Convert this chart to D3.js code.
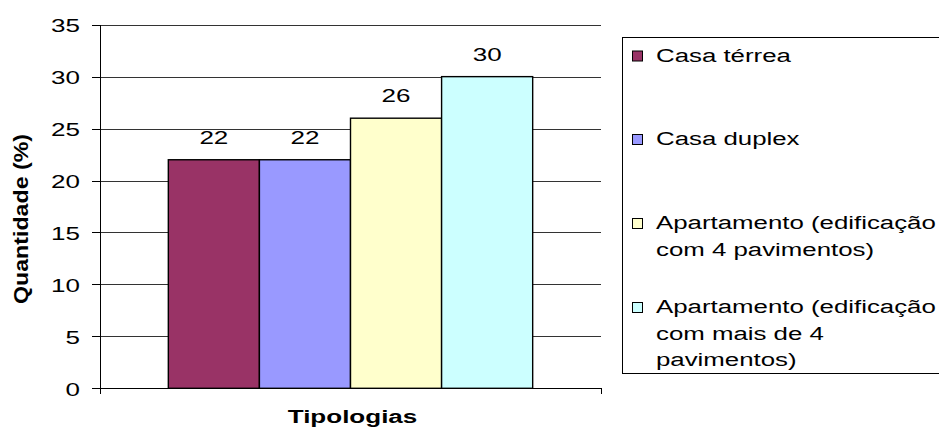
<!DOCTYPE html>
<html>
<head>
<meta charset="utf-8">
<script src="https://cdn.jsdelivr.net/npm/d3@7"></script>
<style>
  html, body { margin: 0; padding: 0; background: #fff; }
  svg { display: block; }
  text { font-family: "Liberation Sans", Arial, sans-serif; fill: #000; }
</style>
</head>
<body>
<svg id="chart" width="939" height="430"></svg>
<script>
// Housing types (series) and their share in percent
const category = ["Tipologias"];
const series = [
  "Casa térrea",
  "Casa duplex",
  "Apartamento (edificação com 4 pavimentos)",
  "Apartamento (edificação com mais de 4 pavimentos)"
];
const values = [22, 22, 26, 30];
const colors = ["#993366", "#9999FF", "#FFFFCC", "#CCFFFF"];
const legendLines = [
  ["Casa térrea"],
  ["Casa duplex"],
  ["Apartamento (edificação", "com 4 pavimentos)"],
  ["Apartamento (edificação", "com mais de 4", "pavimentos)"]
];
const yTicks = [0, 5, 10, 15, 20, 25, 30, 35];
const yTitle = "Quantidade (%)";

const svg = d3.select("#chart");
const FS = 19;        // font size
const SX = 1.37;      // horizontal text stretch
const plot = { left: 100, right: 601, top: 24.7, bottom: 388.3 };

const y = d3.scaleLinear().domain([0, 35]).range([plot.bottom, plot.top]);
const x0 = d3.scaleBand().domain(category).range([plot.left, plot.right]).padding(0);
const x1 = d3.scaleBand().domain(series).range([0, x0.bandwidth()])
  .paddingInner(0).paddingOuter(0.75);

// Gridlines
const grid = svg.append("g")
  .attr("transform", `translate(${plot.left},0)`)
  .call(d3.axisLeft(y).tickValues(yTicks.filter(d => d > 0))
    .tickSize(-(plot.right - plot.left)).tickFormat(""));
grid.select(".domain").remove();
grid.selectAll("line").attr("stroke", "#333").attr("shape-rendering", "crispEdges");

// Y axis with ticks and labels
const yAxis = svg.append("g")
  .attr("transform", `translate(${plot.left},0)`)
  .call(d3.axisLeft(y).tickValues(yTicks).tickSize(8).tickSizeOuter(0));
yAxis.select(".domain").remove();
yAxis.selectAll("line").attr("stroke", "#000").attr("shape-rendering", "crispEdges");
yAxis.selectAll("text")
  .attr("x", null).attr("dy", null)
  .attr("transform", "translate(-20,7) scale(" + SX + ",1)")
  .attr("font-size", FS).attr("fill", "#000");

// Vertical axis line (extends below the baseline as a category tick)
svg.append("line")
  .attr("x1", plot.left).attr("x2", plot.left)
  .attr("y1", y(35)).attr("y2", y(0) + 6)
  .attr("stroke", "#000").attr("shape-rendering", "crispEdges");

// Category axis line with end ticks
const xr = x0.range();
svg.append("line")
  .attr("x1", xr[0] - 8).attr("x2", xr[1])
  .attr("y1", y(0)).attr("y2", y(0))
  .attr("stroke", "#000").attr("shape-rendering", "crispEdges");
svg.append("line")
  .attr("x1", xr[1]).attr("x2", xr[1])
  .attr("y1", y(0)).attr("y2", y(0) + 6)
  .attr("stroke", "#000").attr("shape-rendering", "crispEdges");

// Bars
const g = svg.append("g").attr("transform", `translate(${x0(category[0])},0)`);
g.selectAll("rect.bar")
  .data(values)
  .join("rect")
  .attr("class", "bar")
  .attr("x", (d, i) => x1(series[i]))
  .attr("y", d => y(d))
  .attr("width", x1.bandwidth())
  .attr("height", d => y(0) - y(d))
  .attr("fill", (d, i) => colors[i])
  .attr("stroke", "#000")
  .attr("stroke-width", 1.4);

// Value labels
g.selectAll("text.val")
  .data(values)
  .join("text")
  .attr("class", "val")
  .attr("text-anchor", "middle")
  .attr("font-size", FS)
  .attr("transform", (d, i) =>
    `translate(${x1(series[i]) + x1.bandwidth() / 2},${y(d) - 16}) scale(${SX},1)`)
  .text(d => d);

// Axis titles
svg.append("text")
  .attr("text-anchor", "middle")
  .attr("font-size", FS).attr("font-weight", "bold")
  .attr("transform", `translate(${(plot.left + plot.right) / 2 + 2},423) scale(${SX},1)`)
  .text(category[0]);

svg.append("text")
  .attr("text-anchor", "middle")
  .attr("font-size", FS).attr("font-weight", "bold")
  .attr("textLength", 170).attr("lengthAdjust", "spacingAndGlyphs")
  .attr("transform", "translate(28,219) scale(1.08,1) rotate(-90)")
  .text(yTitle);

// Legend
const lg = svg.append("g");
lg.append("rect")
  .attr("x", 622.5).attr("y", 37.5)
  .attr("width", 340).attr("height", 336)
  .attr("fill", "#fff").attr("stroke", "#000");

const entryY = [61.5, 145, 229, 313];
const lineH = 26.5;
legendLines.forEach((lines, i) => {
  const base = entryY[i];
  lg.append("rect")
    .attr("x", 632.5).attr("y", base - 10.5)
    .attr("width", 10).attr("height", 10)
    .attr("fill", colors[i]).attr("stroke", "#000");
  lines.forEach((t, j) => {
    lg.append("text")
      .attr("font-size", FS)
      .attr("transform", `translate(656,${base + j * lineH}) scale(1.36,1)`)
      .text(t);
  });
});
</script>
</body>
</html>
